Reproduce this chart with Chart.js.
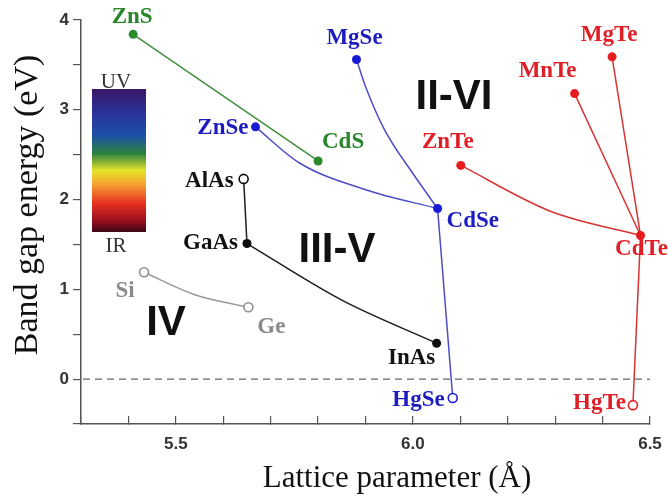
<!DOCTYPE html>
<html>
<head>
<meta charset="utf-8">
<script src="https://cdn.jsdelivr.net/npm/chart.js@4"></script>
<style>
  body { margin: 0; background: #fff; }
  #wrap { width: 668px; height: 497px; position: relative; }
</style>
</head>
<body>
<div id="wrap"><canvas id="gapChart"></canvas></div>
<script>
// Compounds: lattice parameter (Å) and band gap (eV)
const compounds = ['ZnS', 'ZnSe', 'CdS', 'MgSe', 'CdSe', 'HgSe', 'AlAs', 'GaAs', 'InAs', 'Si', 'Ge', 'ZnTe', 'MnTe', 'MgTe', 'CdTe', 'HgTe'];
const lattice   = [5.41, 5.668, 5.80, 5.881, 6.052, 6.084, 5.643, 5.65, 6.05, 5.433, 5.653, 6.101, 6.341, 6.42, 6.48, 6.464];
const bandGap   = [3.84, 2.81, 2.43, 3.56, 1.90, -0.21, 2.23, 1.51, 0.40, 1.19, 0.80, 2.38, 3.18, 3.59, 1.60, -0.29];
const family    = ['sulfide', 'selenide', 'sulfide', 'selenide', 'selenide', 'selenide', 'III-V', 'III-V', 'III-V', 'IV', 'IV', 'telluride', 'telluride', 'telluride', 'telluride', 'telluride'];
// drawn as open circles
const hollow = ['AlAs', 'Si', 'Ge', 'HgSe', 'HgTe'];

// Alloy lines between compounds, with points (empty = straight)
const alloyFrom  = ['ZnS', 'ZnSe', 'MgSe', 'CdSe', 'AlAs', 'GaAs', 'Si', 'ZnTe', 'MnTe', 'MgTe', 'CdTe'];
const alloyTo    = ['CdS', 'CdSe', 'CdSe', 'HgSe', 'GaAs', 'InAs', 'Ge', 'CdTe', 'CdTe', 'CdTe', 'HgTe'];
const alloyBendX = [[], [5.76, 5.90], [5.90, 5.94, 6.00], [], [], [5.85], [5.54], [6.29], [], [], []];
const alloyBendY = [[], [2.41, 2.11], [3.26, 2.78, 2.29], [], [], [0.88], [0.94], [1.87], [], [], []];

const yTicks = [-0.5, 0, 0.5, 1, 1.5, 2, 2.5, 3, 3.5, 4];
const xTickLabels = [5.5, 6.0, 6.5];

// colours
const lineColor = { sulfide: '#3f8f3f', selenide: '#4d4dc4', 'III-V': '#1e1e1e', IV: '#9a9a9a', telluride: '#d83434' };
const markColor = { sulfide: '#2b8a2b', selenide: '#1a1ad6', 'III-V': '#0d0d0d', IV: '#8c8c8c', telluride: '#e81c1c' };
const textColor = { sulfide: '#2a862a', selenide: '#1c1cc0', 'III-V': '#111111', IV: '#8a8a8a', telluride: '#e01e26' };

function idx(name) { return compounds.indexOf(name); }

// Label offsets from the marker: [dx, dy, align]
const labelPos = {
    ZnS: [-1, -17, 'center'], ZnSe: [-7, 1, 'right'], CdS: [25, -19, 'center'],
    MgSe: [-2, -21, 'center'], CdSe: [9, 13, 'left'], HgSe: [-8, 2, 'right'],
    AlAs: [-10, 2, 'right'], GaAs: [-9, 0, 'right'], InAs: [-25, 15, 'center'],
    Si: [-19, 19, 'center'], Ge: [23, 20, 'center'],
    ZnTe: [-13, -23, 'center'], MnTe: [-27, -23, 'center'], MgTe: [-3, -22, 'center'],
    CdTe: [1, 14, 'center'], HgTe: [-7, -2, 'right']
};

// Datasets
const datasets = [];
datasets.push({
    label: 'compounds',
    data: compounds.map((c, i) => ({ x: lattice[i], y: bandGap[i] })),
    showLine: false,
    pointRadius: 4.5,
    pointBorderWidth: compounds.map(c => hollow.includes(c) ? 1.6 : 0),
    pointBackgroundColor: compounds.map((c, i) => hollow.includes(c) ? '#ffffff' : markColor[family[i]]),
    pointBorderColor: compounds.map((c, i) => markColor[family[i]]),
    order: 0
});
alloyFrom.forEach((from, k) => {
    const a = idx(from), b = idx(alloyTo[k]);
    const pts = [{ x: lattice[a], y: bandGap[a] }];
    alloyBendX[k].forEach((bx, j) => pts.push({ x: bx, y: alloyBendY[k][j] }));
    pts.push({ x: lattice[b], y: bandGap[b] });
    datasets.push({
        label: from + '-' + alloyTo[k],
        data: pts,
        showLine: true,
        borderColor: lineColor[family[a]],
        borderWidth: 1.5,
        pointRadius: 0,
        cubicInterpolationMode: 'monotone',
        order: 1
    });
});

// Draws the zero line, colour bar, texts
const annotate = {
    id: 'annotate',
    beforeDatasetsDraw(chart) {
        const ctx = chart.ctx, xs = chart.scales.x, ys = chart.scales.y;
        const y0 = ys.getPixelForValue(0);
        ctx.save();
        ctx.strokeStyle = '#666';
        ctx.lineWidth = 1.3;
        ctx.setLineDash([7, 5]);
        ctx.beginPath();
        ctx.moveTo(xs.left + 2, y0);
        ctx.lineTo(xs.right, y0);
        ctx.stroke();
        ctx.setLineDash([]);

        // colour bar
        const g = ctx.createLinearGradient(0, 89, 0, 232);
        g.addColorStop(0, '#3a1868');
        g.addColorStop(0.18, '#28349e');
        g.addColorStop(0.32, '#1f4fa8');
        g.addColorStop(0.45, '#2a8040');
        g.addColorStop(0.57, '#e4e42a');
        g.addColorStop(0.67, '#f4a030');
        g.addColorStop(0.8, '#e83020');
        g.addColorStop(0.92, '#9a1020');
        g.addColorStop(1, '#3c0818');
        ctx.fillStyle = g;
        ctx.fillRect(92, 89, 54, 143);
        ctx.fillStyle = '#333';
        ctx.font = '21px "Liberation Serif"';
        ctx.textAlign = 'center';
        ctx.textBaseline = 'alphabetic';
        ctx.fillText('UV', 116, 88);
        ctx.fillText('IR', 116, 252);

        // group names
        ctx.fillStyle = '#111';
        ctx.font = 'bold 42px "Liberation Sans"';
        ctx.textBaseline = 'middle';
        ctx.fillText('II-VI', 454, 97);
        ctx.fillText('III-V', 337, 250);
        ctx.fillText('IV', 166, 323);
        ctx.restore();
    },
    afterDatasetsDraw(chart) {
        const ctx = chart.ctx, xs = chart.scales.x, ys = chart.scales.y;
        ctx.save();
        ctx.font = 'bold 23px "Liberation Serif"';
        ctx.textBaseline = 'middle';
        compounds.forEach((c, i) => {
            const p = labelPos[c];
            ctx.fillStyle = textColor[family[i]];
            ctx.textAlign = p[2];
            ctx.fillText(c, xs.getPixelForValue(lattice[i]) + p[0], ys.getPixelForValue(bandGap[i]) + p[1]);
        });

        // axis titles
        ctx.fillStyle = '#111';
        ctx.font = '31px "Liberation Serif"';
        ctx.textAlign = 'center';
        ctx.textBaseline = 'alphabetic';
        ctx.fillText('Lattice parameter (Å)', 397, 487);
        ctx.font = '34px "Liberation Serif"';
        ctx.translate(37, 205);
        ctx.rotate(-Math.PI / 2);
        ctx.fillText('Band gap energy (eV)', 0, 0);
        ctx.restore();
    }
};

new Chart(document.getElementById('gapChart'), {
    type: 'scatter',
    data: { datasets: datasets },
    plugins: [annotate],
    options: {
        responsive: true,
        maintainAspectRatio: false,
        animation: false,
        events: [],
        layout: { padding: { left: 0, top: 20, right: 18, bottom: 0 } },
        plugins: { legend: { display: false }, tooltip: { enabled: false } },
        scales: {
            x: {
                type: 'linear',
                min: 5.3,
                max: 6.5,
                afterFit: s => { s.height = 73; s.paddingLeft = 0; s.paddingRight = 0; },
                afterBuildTicks: s => {
                    const t = [];
                    for (let k = 0; k <= 12; k++) t.push({ value: Math.round((5.3 + k * 0.1) * 10) / 10 });
                    s.ticks = t;
                },
                ticks: {
                    color: '#333',
                    font: { family: 'Liberation Sans', size: 17, weight: 'bold' },
                    padding: 18,
                    maxRotation: 0,
                    autoSkip: false,
                    callback: v => xTickLabels.some(t => Math.abs(t - v) < 1e-6) ? v.toFixed(1) : ''
                },
                // negative length: tick marks point up into the plot
                grid: { drawOnChartArea: false, drawTicks: true, tickLength: -8, color: '#555', lineWidth: 1.2 },
                border: { color: '#555', width: 1.5 }
            },
            y: {
                type: 'linear',
                min: -0.5,
                max: 4,
                afterFit: s => { s.width = 81; },
                afterBuildTicks: s => { s.ticks = yTicks.map(v => ({ value: v })); },
                ticks: {
                    color: '#333',
                    font: { family: 'Liberation Sans', size: 17, weight: 'bold' },
                    padding: 4,
                    autoSkip: false,
                    callback: v => Number.isInteger(v) ? String(v) : ''
                },
                grid: { drawOnChartArea: false, drawTicks: true, tickLength: 8, color: '#555', lineWidth: 1.2 },
                border: { color: '#555', width: 1.5 }
            }
        }
    }
});
</script>
</body>
</html>
